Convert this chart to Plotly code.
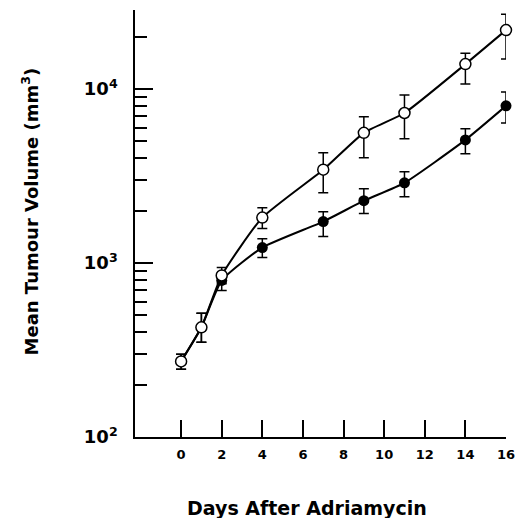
import plotly.graph_objects as go

# Data
days_open = [0, 1, 2, 4, 7, 9, 11, 14, 16]
vol_open = [272, 427, 848, 1824, 3437, 5600, 7280, 13900, 21800]
open_hi = [299, 514, 942, 2080, 4300, 6920, 9250, 16070, 26900]
open_lo = [245, 350, 760, 1578, 2535, 4030, 5170, 10690, 14860]

days_filled = [0, 1, 2, 4, 7, 9, 11, 14, 16]
vol_filled = [272, 427, 794, 1227, 1730, 2280, 2890, 5100, 8000]
filled_hi = [299, 514, 860, 1380, 1973, 2673, 3340, 5900, 9610]
filled_lo = [245, 350, 695, 1077, 1419, 1923, 2404, 4250, 6380]

x_ticks = [0, 2, 4, 6, 8, 10, 12, 14, 16]
y_major = [100, 1000, 10000]
y_major_text = ["10<sup>2</sup>", "10<sup>3</sup>", "10<sup>4</sup>"]
y_minor = [m * 100 for m in range(2, 10)] + [m * 1000 for m in range(2, 10)] + [20000]


def err(v, hi, lo):
    return [h - a for a, h in zip(v, hi)], [a - l for a, l in zip(v, lo)]


fe_p, fe_m = err(vol_filled, filled_hi, filled_lo)
oe_p, oe_m = err(vol_open, open_hi, open_lo)

fig = go.Figure()
fig.add_trace(go.Scatter(
    x=days_filled, y=vol_filled, mode="lines+markers",
    line=dict(color="black", width=2, shape="spline", smoothing=0.5),
    marker=dict(symbol="circle", size=11, color="black"),
    error_y=dict(type="data", array=fe_p, arrayminus=fe_m, color="black",
                 thickness=1.5, width=5),
    cliponaxis=False, showlegend=False,
))
fig.add_trace(go.Scatter(
    x=days_open, y=vol_open, mode="lines+markers",
    line=dict(color="black", width=2, shape="spline", smoothing=0.5),
    marker=dict(symbol="circle", size=11, color="white",
                line=dict(color="black", width=1.5)),
    error_y=dict(type="data", array=oe_p, arrayminus=oe_m, color="black",
                 thickness=1.5, width=5),
    cliponaxis=False, showlegend=False,
))

fig.update_layout(
    width=525, height=518,
    margin=dict(l=135, r=11, t=10, b=81),
    paper_bgcolor="white", plot_bgcolor="white",
    font=dict(family="Liberation Sans", color="black"),
    xaxis=dict(
        range=[-2.27, 16], showgrid=False, zeroline=False,
        showline=True, linecolor="black", linewidth=1.5,
        tickmode="array", tickvals=x_ticks,
        ticks="inside", ticklen=17, tickwidth=1.5, tickcolor="black",
        tickfont=dict(family="DejaVu Sans", size=13, color="black", weight="bold"),
        ticklabelstandoff=5,
    ),
    yaxis=dict(
        type="log", range=[2, 4.454], showgrid=False, zeroline=False,
        showline=True, linecolor="black", linewidth=1.5,
        tickmode="array", tickvals=y_major, ticktext=y_major_text,
        ticks="inside", ticklen=18, tickwidth=1.5, tickcolor="black",
        tickfont=dict(family="DejaVu Sans", size=18, color="black", weight="bold"),
        ticklabelstandoff=12,
        minor=dict(tickmode="array", tickvals=y_minor, ticks="inside",
                   ticklen=12, tickwidth=1.5, tickcolor="black", showgrid=False),
    ),
    annotations=[
        dict(text="Days After Adriamycin", xref="paper", yref="paper",
             x=0.464, y=-0.166, xanchor="center", yanchor="middle",
             showarrow=False,
             font=dict(family="DejaVu Sans", size=19, color="black", weight="bold")),
        dict(text="Mean Tumour Volume (mm<sup>3</sup>)", xref="paper", yref="paper",
             x=-0.282, y=0.529, xanchor="center", yanchor="middle",
             textangle=-90, showarrow=False,
             font=dict(family="DejaVu Sans", size=18, color="black", weight="bold")),
    ],
)

fig.write_html("out.html")
